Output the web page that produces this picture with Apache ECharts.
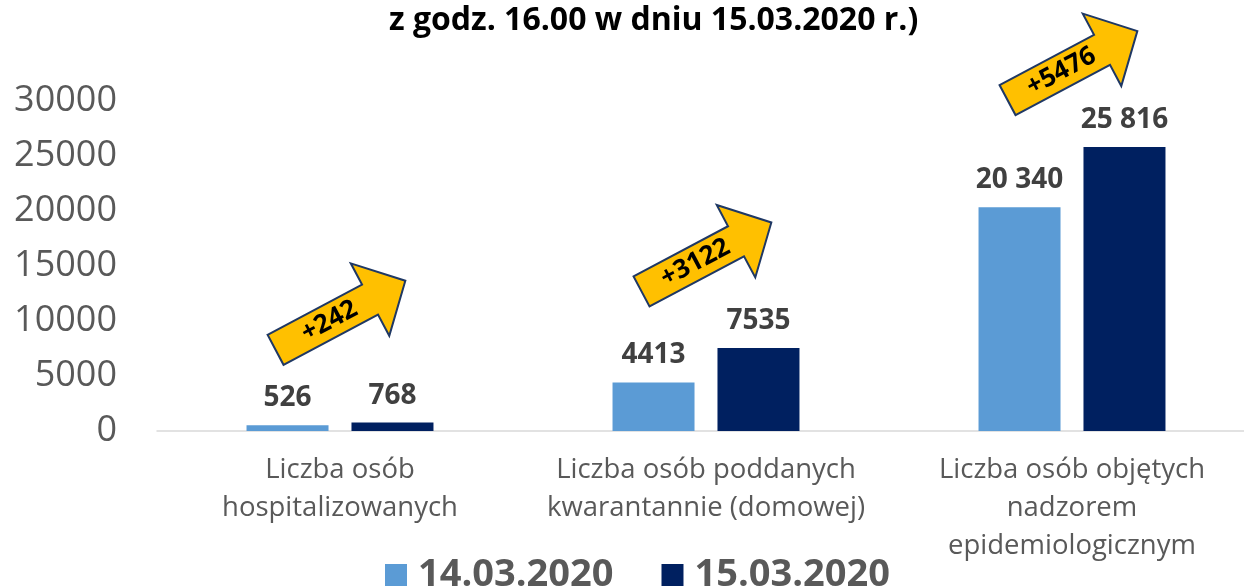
<!DOCTYPE html>
<html>
<head>
<meta charset="utf-8">
<script src="https://cdn.jsdelivr.net/npm/echarts@6/dist/echarts.min.js"></script>
<style>
  html, body { margin: 0; padding: 0; background: #fff; }
  #chart { width: 1244px; height: 587px; }
</style>
</head>
<body>
<div id="chart"></div>
<script>
var categories = ['Liczba osób\nhospitalizowanych', 'Liczba osób poddanych\nkwarantannie (domowej)', 'Liczba osób objętych\nnadzorem\nepidemiologicznym'];
var seriesNames = ['14.03.2020', '15.03.2020'];
var values14 = [526, 4413, 20340];
var values15 = [768, 7535, 25816];
var labels14 = ['526', '4413', '20 340'];
var labels15 = ['768', '7535', '25 816'];
var diffs = ['+242', '+3122', '+5476'];
// where the arrows sit above each group (value units)
var arrowLevels = [10500, 15800, 33200];

var font = '"Open Sans", sans-serif';

var myChart = echarts.init(document.getElementById('chart'));

var valueLabel = function(list) {
	return {
		show: true,
		position: 'top',
		distance: 13,
		fontFamily: font,
		fontWeight: 'bold',
		fontSize: 28,
		color: '#404040',
		formatter: function(p) { return list[p.dataIndex]; }
	};
};

var option = {
	backgroundColor: '#ffffff',
	animation: false,
	title: {
		text: 'z godz. 16.00 w dniu 15.03.2020 r.)',
		left: 384,
		top: 0,
		textStyle: { fontFamily: font, fontWeight: 'bold', fontSize: 32, color: '#000' }
	},
	legend: {
		data: seriesNames,
		bottom: -12,
		left: 380,
		itemWidth: 22,
		itemHeight: 22,
		itemGap: 48,
		icon: 'rect',
		textStyle: { fontFamily: font, fontWeight: 'bold', fontSize: 38, color: '#595959', padding: [0, 0, 0, 6] }
	},
	grid: { left: 157, width: 1098, top: 101, bottom: 156, containLabel: false, outerBoundsMode: 'none' },
	xAxis: {
		type: 'category',
		data: categories,
		axisLine: { lineStyle: { color: '#d9d9d9', width: 1.5 } },
		axisTick: { show: false },
		axisLabel: {
			interval: 0,
			margin: 20,
			fontFamily: font,
			fontSize: 27.5,
			lineHeight: 38,
			color: '#595959'
		}
	},
	yAxis: {
		type: 'value',
		min: 0,
		max: 30000,
		interval: 5000,
		axisLine: { show: false },
		axisTick: { show: false },
		splitLine: { show: false },
		axisLabel: {
			margin: 40,
			fontFamily: font,
			fontSize: 36,
			color: '#595959',
			formatter: function(v) { return String(v); }
		}
	},
	series: [
		{
			name: seriesNames[0],
			type: 'bar',
			barWidth: 82,
			barGap: '28%',
			itemStyle: { color: '#5b9bd5' },
			label: valueLabel(labels14),
			data: values14
		},
		{
			name: seriesNames[1],
			type: 'bar',
			barWidth: 82,
			itemStyle: { color: '#002060' },
			label: valueLabel(labels15),
			data: values15
		}
	]
};
myChart.setOption(option);

// yellow arrows with the increase, placed over each group
var ang = 28 * Math.PI / 180;
var arrowPts = [[-73, -17], [34, -17], [34, -41], [74, 0], [34, 41], [34, 17], [-73, 17]];
var graphics = diffs.map(function(txt, i) {
	var pos = myChart.convertToPixel({ gridIndex: 0 }, [i, arrowLevels[i]]);
	return {
		type: 'group',
		x: pos[0],
		y: pos[1],
		rotation: ang,
		children: [
			{
				type: 'polygon',
				shape: { points: arrowPts },
				style: { fill: '#ffc000', stroke: '#1f3864', lineWidth: 2 }
			},
			{
				type: 'text',
				x: -12,
				y: 0,
				style: {
					text: txt,
					fontFamily: font,
					fontWeight: 'bold',
					fontSize: 26,
					fill: '#000',
					align: 'center',
					verticalAlign: 'middle'
				}
			}
		]
	};
});
myChart.setOption({ graphic: graphics });
</script>
</body>
</html>
